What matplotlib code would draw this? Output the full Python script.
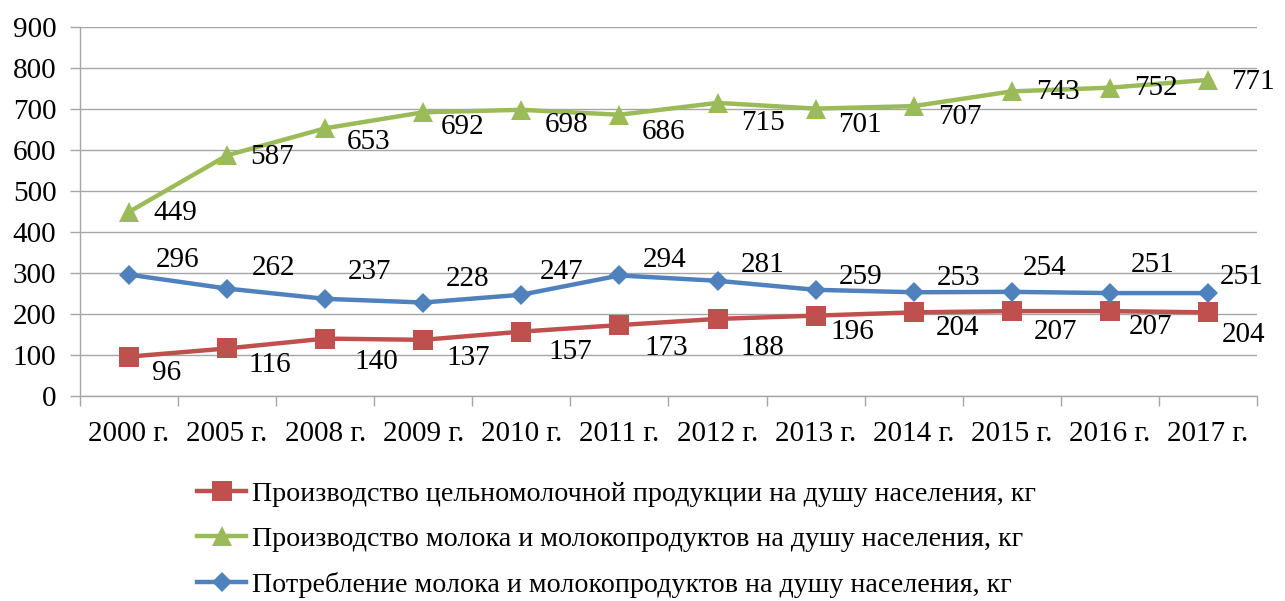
import matplotlib.pyplot as plt
import numpy as np

# data
years = ["2000 г.", "2005 г.", "2008 г.", "2009 г.", "2010 г.", "2011 г.",
         "2012 г.", "2013 г.", "2014 г.", "2015 г.", "2016 г.", "2017 г."]
whole_milk = [96, 116, 140, 137, 157, 173, 188, 196, 204, 207, 207, 204]
milk_prod = [449, 587, 653, 692, 698, 686, 715, 701, 707, 743, 752, 771]
milk_cons = [296, 262, 237, 228, 247, 294, 281, 259, 253, 254, 251, 251]

names = [
    "Производство цельномолочной продукции на душу населения, кг",
    "Производство молока и молокопродуктов на душу населения, кг",
    "Потребление молока и молокопродуктов на душу населения, кг",
]

# label offsets in pixels (dx right, dy down), positioned by hand like the original
off_red = [(38, 16), (43, 17), (51, 23), (45, 18), (49, 20), (47, 23),
           (45, 29), (37, 16), (44, 16), (44, 21), (41, 16), (36, 23)]
off_green = [(46, 1), (45, 2), (43, 14), (39, 15), (45, 15), (44, 17),
             (45, 20), (44, 16), (46, 11), (46, 1), (46, 0), (45, 2)]
off_blue = [(49, -15), (46, -21), (44, -27), (44, -24), (40, -23), (45, -15),
            (45, -16), (45, -13), (45, -14), (33, -24), (43, -28), (34, -16)]

RED = "#C0504D"
GREEN = "#9BBB59"
BLUE = "#4F81BD"
GRID = "#A6A6A6"
FS = 21

plt.rcParams["font.family"] = ["Liberation Serif", "DejaVu Serif"]

fig = plt.figure(figsize=(12.85, 6.01), dpi=100)
ax = fig.add_axes([80 / 1285, 1 - 396 / 601, (1257 - 80) / 1285, (396 - 27) / 601])

x = np.arange(len(years))
series = [
    (whole_milk, RED, "s", 14.4, off_red),
    (milk_prod, GREEN, "^", 14.4, off_green),
    (milk_cons, BLUE, "D", 10.5, off_blue),
]
for (vals, col, mk, ms, offs), name in zip(series, names):
    ax.plot(x, vals, color=col, lw=3.2, marker=mk, markersize=ms,
            markeredgewidth=0, label=name, zorder=3)
    for xi, v, (dx, dy) in zip(x, vals, offs):
        ax.annotate(str(v), (xi, v), xytext=(dx, -dy), textcoords="offset pixels",
                    ha="center", va="center", fontsize=FS, zorder=4)

ax.set_xlim(-0.5, len(years) - 0.5)
ax.set_ylim(0, 900)
ax.set_yticks(range(0, 901, 100))
ax.set_xticks(x)
ax.set_xticklabels(years)
ax.set_xticks(np.arange(-0.5, len(years)), minor=True)
ax.tick_params(axis="x", which="major", length=0, labelsize=FS, pad=18)
ax.tick_params(axis="x", which="minor", length=7, color=GRID, width=1)
ax.tick_params(axis="y", length=7, color=GRID, width=1, labelsize=FS, pad=10)

ax.grid(axis="y", color=GRID, lw=1, zorder=0)
for s in ["top", "right"]:
    ax.spines[s].set_visible(False)
for s in ["left", "bottom"]:
    ax.spines[s].set_color(GRID)
    ax.spines[s].set_linewidth(1)

fig.legend(loc="upper left", bbox_to_anchor=(197 / 1285, 1 - 481 / 601),
           frameon=False, fontsize=20.2, handlelength=1.75, handletextpad=0.2,
           labelspacing=0.7, borderpad=0, borderaxespad=0)

fig.savefig("out.png", dpi=100)
